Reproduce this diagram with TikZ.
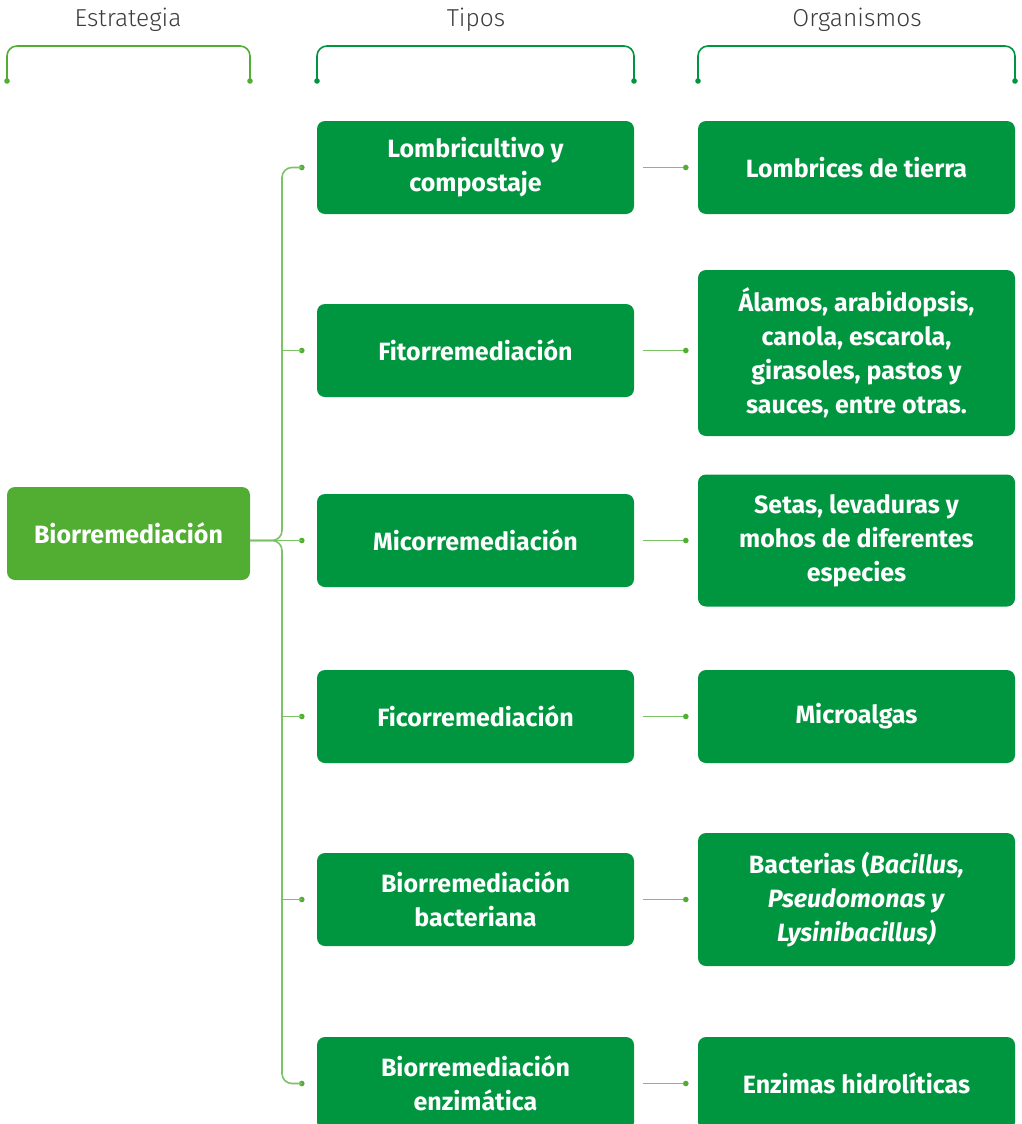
\documentclass[tikz,border=0pt]{standalone}
\usepackage{fontspec}
\setmainfont{Fira Sans}
\newfontfamily\headfont{Fira Sans Light}
\usetikzlibrary{calc}
\definecolor{boxgreen}{HTML}{009640}
\definecolor{rootgreen}{HTML}{52AE32}
\definecolor{linegreen}{HTML}{7CC267}
\definecolor{headgray}{HTML}{3C3C3C}
\tikzset{
  headtext/.style={text=headgray, font=\headfont\fontsize{24.5}{28}\selectfont},
  gbox/.style={fill=boxgreen, rounded corners=8pt, minimum width=317pt, minimum height=93pt,
    text=white, align=center, inner sep=0pt, font=\bfseries\fontsize{25}{34}\selectfont},
  rootbox/.style={gbox, fill=rootgreen, minimum width=243pt},
  conn/.style={draw=linegreen, line width=1.6pt},
  brace/.style={line width=1.6pt, rounded corners=10pt},
  dot/.style={fill=rootgreen}
}
\begin{document}
\begin{tikzpicture}[x=1pt, y=-1pt]
  \useasboundingbox (0,0) rectangle (1022,1124);

  \node[headtext] (hstrat) at (128,20)   {Estrategia};
  \node[headtext] (htipos) at (476,20)   {Tipos};
  \node[headtext] (horg)   at (857,20)   {Organismos};

  \coordinate (sL) at (7,81);   \coordinate (sR) at (250,81);
  \coordinate (tL) at (317,81); \coordinate (tR) at (634,81);
  \coordinate (oL) at (698,81); \coordinate (oR) at (1015,81);
  \draw[brace, draw=rootgreen] (sL) -- ++(0,-35) -| (sR);
  \draw[brace, draw=boxgreen]  (tL) -- ++(0,-35) -| (tR);
  \draw[brace, draw=boxgreen]  (oL) -- ++(0,-35) -| (oR);
  \foreach \p in {sL,sR} \fill[dot] (\p) circle (2.8pt);
  \foreach \p in {tL,tR,oL,oR} \fill[boxgreen] (\p) circle (2.8pt);

  \node[rootbox] (root) at (128.5,533.5) {Biorremediación};

  \node[gbox] (t1) at (475.5,167.5) {Lombricultivo y\\compostaje};
  \node[gbox] (t2) at (475.5,350.5) {Fitorremediación};
  \node[gbox] (t3) at (475.5,540.5) {Micorremediación};
  \node[gbox] (t4) at (475.5,716.5) {Ficorremediación};
  \node[gbox] (t5) at (475.5,899.5) {Biorremediación\\bacteriana};
  \node[gbox] (t6) at (475.5,1083.5) {Biorremediación\\enzimática};

  \node[gbox] (o1) at (856.5,167.5) {Lombrices de tierra};
  \node[gbox, minimum height=166pt] (o2) at (856.5,353) {Álamos, arabidopsis,\\canola, escarola,\\girasoles, pastos y\\sauces, entre otras.};
  \node[gbox, minimum height=132pt] (o3) at (856.5,540.5) {Setas, levaduras y\\mohos de diferentes\\especies};
  \node[gbox] (o4) at (856.5,716.5) {Microalgas};
  \node[gbox, minimum height=133pt] (o5) at (856.5,899.5) {Bacterias (\textit{Bacillus,}\\\textit{Pseudomonas y}\\\textit{Lysinibacillus)}};
  \node[gbox] (o6) at (856.5,1083.5) {Enzimas hidrolíticas};

  \coordinate (jn) at (282,540.5);
  \foreach \i in {1,...,6} {
    \coordinate (d\i) at ($(t\i.west)+(-15,0)$);
    \coordinate (e\i) at ($(o\i.west |- t\i.west)+(-12,0)$);
    \draw[conn] ($(t\i.east)+(9,0)$) -- (e\i);
    \fill[dot] (d\i) circle (2.8pt);
    \fill[dot] (e\i) circle (2.8pt);
  }
  \draw[conn, rounded corners=10pt] (d1) -| (jn) -- (root.east |- jn);
  \draw[conn, rounded corners=10pt] (d6) -| (jn) -- (root.east |- jn);
  \draw[conn] (root.east |- jn) -- (d3);
  \foreach \i in {2,4,5} \draw[conn] (d\i -| jn) -- (d\i);
\end{tikzpicture}
\end{document}
